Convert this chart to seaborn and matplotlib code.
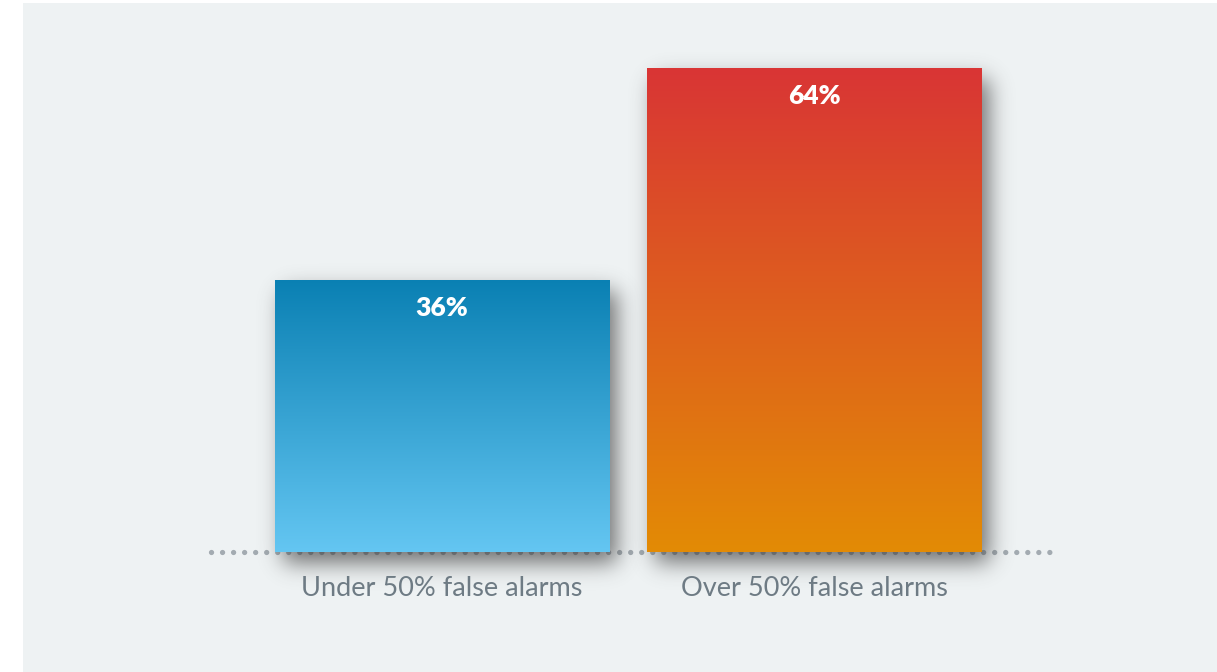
import numpy as np
import pandas as pd
import matplotlib
matplotlib.use("Agg")
import matplotlib.pyplot as plt
from matplotlib.patches import Rectangle
from matplotlib.colors import LinearSegmentedColormap
from math import erf
import seaborn as sns

# Survey share by false-alarm rate
categories = ["Under 50% false alarms", "Over 50% false alarms"]
shares = [36, 64]
value_labels = ["36%", "64%"]

# Vertical gradient per bar: (top colour, bottom colour)
gradients = [("#0A80B3", "#64C6F2"), ("#D93535", "#E38B05")]

sns.set_theme(style="white")
plt.rcParams["font.family"] = ["Lato", "DejaVu Sans"]

W, H = 1217, 672
fig = plt.figure(figsize=(W / 100, H / 100), dpi=100)
fig.patch.set_facecolor("#FFFFFF")

ax = fig.add_axes([0, 0, 1, 1])
ax.set_facecolor("none")

# light panel behind the chart
ax.add_patch(Rectangle((23 / W, 0), 1 - 23 / W, 1 - 3 / H,
                       transform=fig.transFigure, facecolor="#EEF2F3",
                       edgecolor="none", zorder=-5))

df = pd.DataFrame({"category": categories, "share": shares})
sns.barplot(data=df, x="category", y="share", ax=ax, width=0.898,
            color="#888888", saturation=1, zorder=3, linewidth=0,
            edgecolor="none")

# axis scale: 372 px between bar centres, 7.56 px per percentage point
px_x, px_y = 372.0, 7.56
x0_px, y0_px = 442.0, 552.0
ax.set_axis_off()

# dotted baseline
ax.plot([(211 - x0_px) / px_x, (1057 - x0_px) / px_x], [0, 0],
        color="#A3ABB1", lw=3.8, linestyle=(0, (0.01, 2.08)),
        dash_capstyle="round", zorder=1)

verf = np.vectorize(erf)


def soft_edge(coord, lo, hi, sigma):
    # smooth box profile used for the blurred drop shadow
    s = sigma * np.sqrt(2)
    return 0.5 * (verf((coord - lo) / s) - verf((coord - hi) / s))


bars = [p for p in ax.patches if p.get_height() > 0 and p.get_zorder() == 3]
for patch, (top_c, bot_c), lab in zip(bars, gradients, value_labels):
    x, y = patch.get_x(), patch.get_y()
    w, h = patch.get_width(), patch.get_height()

    # drop shadow (pixel units, offset down/right)
    sig, dx, dy, pad = 11.0, 8.0, 11.0, 50.0
    l_px = x0_px + x * px_x
    r_px = l_px + w * px_x
    t_px = y0_px - (y + h) * px_y
    b_px = y0_px - y * px_y
    gx = np.arange(l_px - pad, r_px + pad + dx, 1.0)
    gy = np.arange(t_px - pad, b_px + pad + dy, 1.0)
    ax_prof = soft_edge(gx, l_px + dx, r_px + dx, sig)
    ay_prof = soft_edge(gy, t_px + dy, b_px + dy, sig)
    alpha = np.outer(ay_prof, ax_prof) * 0.7
    rgba = np.zeros(alpha.shape + (4,))
    rgba[..., :3] = 0.22
    rgba[..., 3] = alpha
    ax.imshow(rgba, extent=[(gx[0] - x0_px) / px_x, (gx[-1] - x0_px) / px_x,
                            (y0_px - gy[-1]) / px_y, (y0_px - gy[0]) / px_y],
              origin="upper", aspect="auto", interpolation="bilinear", zorder=2)

    # gradient fill clipped to the bar
    cmap = LinearSegmentedColormap.from_list("g", [bot_c, top_c])
    grad = np.linspace(0, 1, 256).reshape(-1, 1)
    im = ax.imshow(grad, cmap=cmap, origin="lower", aspect="auto",
                   extent=[x, x + w, y, y + h], zorder=4,
                   interpolation="bilinear")
    im.set_clip_path(patch)

    ax.text(x + w / 2, y + h - 28 / px_y, lab, ha="center", va="center",
            color="white", fontsize=19, fontweight="heavy", zorder=5)

for i, cat in enumerate(categories):
    ax.text(i, -(589 - y0_px) / px_y, cat, ha="center", va="center",
            color="#6E7B84", fontsize=19.5, zorder=5)

ax.set_xlim(-x0_px / px_x, (W - x0_px) / px_x)
ax.set_ylim(-(H - y0_px) / px_y, y0_px / px_y)

fig.savefig("out.png", dpi=100, facecolor=fig.get_facecolor())
